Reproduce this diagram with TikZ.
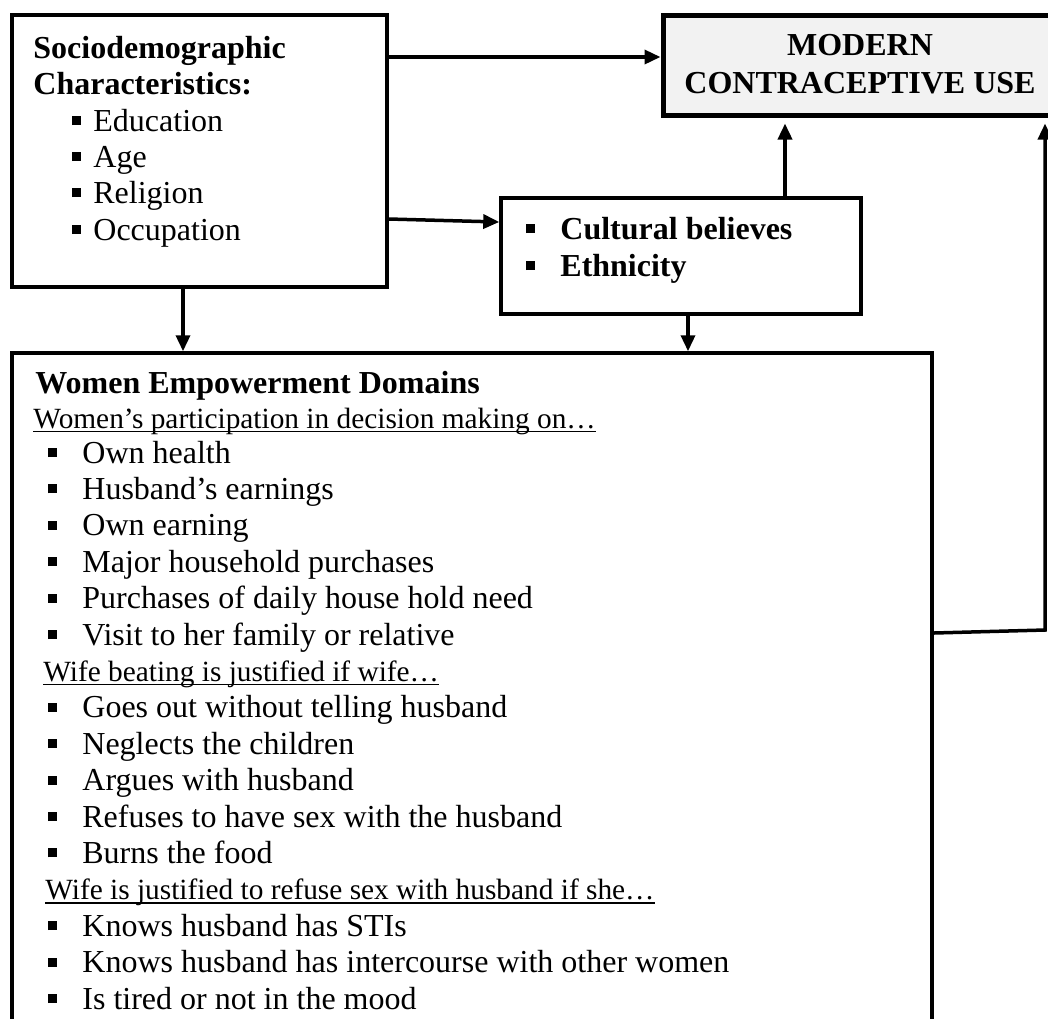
\documentclass[tikz,border=0pt]{standalone}
\usepackage{fontspec}
\setmainfont{Liberation Serif}
\usetikzlibrary{arrows.meta,fit}
\definecolor{boxgray}{HTML}{F2F2F2}
\newcommand\bul[1]{\rule[3pt]{4.5pt}{4.5pt}\hspace{#1}}
\newcommand\ulin[1]{\setbox0\hbox{#1}\rlap{\rule[-2pt]{\wd0}{0.7pt}}#1}
\begin{document}
\begin{tikzpicture}[x=0.5pt,y=-0.5pt,
  box/.style={draw,line width=1.75pt,inner sep=0pt},
  mainbox/.style={draw,line width=2.5pt,inner sep=0pt,fill=boxgray},
  arr/.style={-{Triangle[length=8pt,width=7pt]},line width=1.75pt},
  txt/.style={anchor=base west,inner sep=0pt,font=\fontsize{16}{18.2}\selectfont},
  hdr/.style={anchor=base west,inner sep=0pt,font=\fontsize{14.67}{16.7}\selectfont},
  ctxt/.style={anchor=base,inner sep=0pt,font=\fontsize{16}{18.2}\selectfont\bfseries}]
\useasboundingbox (0,0) rectangle (1048,1018);

% boxes
\node[box,fit={(12,15) (387,287)}] (socio) {};
\node[mainbox,fit={(663,15) (1062,115)}] (modern) {};
\node[box,fit={(501,198) (861,314)}] (cult) {};
\node[box,fit={(12,353) (932,1045)}] (big) {};

% socio text
\node[txt,font=\fontsize{16}{18.2}\selectfont\bfseries] (s1) at (33,58) {Sociodemographic};
\node[txt,font=\fontsize{16}{18.2}\selectfont\bfseries] (s2) at (33,94) {Characteristics:};
\foreach \yy/\lbl [count=\k] in {131/Education,167/Age,203/Religion,240/Occupation}
  \node[txt] (si\k) at (72,\yy) {\bul{6pt}\lbl};

% modern text
\node[ctxt] (m1) at (860,55) {MODERN};
\node[ctxt] (m2) at (860,93) {CONTRACEPTIVE USE};

% cultural text
\node[txt,font=\fontsize{16}{18.2}\selectfont\bfseries] (c1) at (526,239) {\bul{12.5pt}Cultural believes};
\node[txt,font=\fontsize{16}{18.2}\selectfont\bfseries] (c2) at (526,276) {\bul{12.5pt}Ethnicity};

% big box text
\node[txt,font=\fontsize{16}{18.2}\selectfont\bfseries] (b0) at (35,393) {Women Empowerment Domains};
\node[hdr] (h1) at (33,428) {\ulin{Women’s participation in decision making on…}};
\foreach \yy/\lbl [count=\k] in {463/Own health,499.4/Husband’s earnings,535.8/Own earning,572.2/Major household purchases,608.6/Purchases of daily house hold need,645/Visit to her family or relative}
  \node[txt] (a\k) at (48,\yy) {\bul{12.5pt}\lbl};
\node[hdr] (h2) at (43,681.4) {\ulin{Wife beating is justified if wife…}};
\foreach \yy/\lbl [count=\k] in {717.8/Goes out without telling husband,754.2/Neglects the children,790.6/Argues with husband,827/Refuses to have sex with the husband,863.4/Burns the food}
  \node[txt] (b\k) at (48,\yy) {\bul{12.5pt}\lbl};
\node[hdr] (h3) at (45,899.8) {\ulin{Wife is justified to refuse sex with husband if she…}};
\foreach \yy/\lbl [count=\k] in {936.2/Knows husband has STIs,972.6/Knows husband has intercourse with other women,1009/Is tired or not in the mood}
  \node[txt] (c\k) at (48,\yy) {\bul{12.5pt}\lbl};

% connectors
\draw[arr] (socio.east |- 0,57) -- (modern.west |- 0,57);
\draw[arr] (socio.east |- 0,219) -- (cult.west |- 0,222);
\draw[arr] (socio.south -| 183,0) -- (big.north -| 183,0);
\draw[arr,shorten >=3pt] (cult.north -| 785,0) -- (modern.south -| 785,0);
\draw[arr] (cult.south -| 688,0) -- (big.north -| 688,0);
\coordinate (bend) at (1045,630);
\draw[arr,shorten >=3pt] (big.east |- 0,633) -- (bend) -- (modern.south -| bend);
\end{tikzpicture}
\end{document}
